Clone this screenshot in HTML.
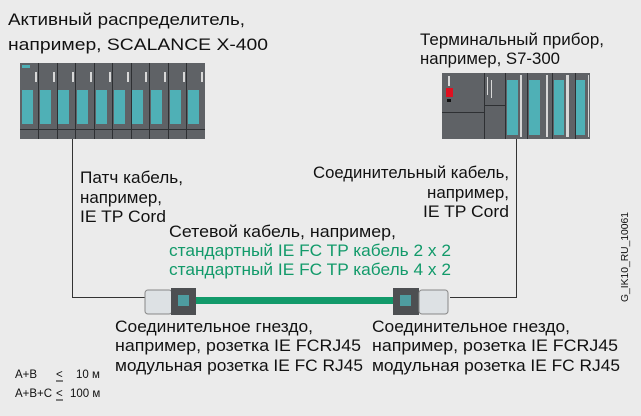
<!DOCTYPE html>
<html><head><meta charset="utf-8"><style>
html,body{margin:0;padding:0;background:#ebebeb;}
svg{display:block}
text{font-family:"Liberation Sans",Arial,sans-serif;fill:#111}
</style></head><body>
<svg width="641" height="416" viewBox="0 0 641 416" xmlns="http://www.w3.org/2000/svg">
<rect width="641" height="416" fill="#ebebeb"/>
<!-- left device -->
<rect x="20" y="63" width="185" height="76" fill="#5f6266"/>
<g fill="#4fb0b6">
<rect x="22" y="90" width="11" height="34"/><rect x="40" y="90" width="11" height="34"/>
<rect x="58" y="90" width="11" height="34"/><rect x="77" y="90" width="11" height="34"/>
<rect x="96" y="90" width="11" height="34"/><rect x="114" y="90" width="11" height="34"/>
<rect x="132" y="90" width="11" height="34"/><rect x="151" y="90" width="11" height="34"/>
<rect x="170" y="90" width="11" height="34"/><rect x="188" y="90" width="11" height="34"/>
</g>
<g stroke="#2e3033" stroke-width="1">
<line x1="38.5" y1="63" x2="38.5" y2="139"/><line x1="57.5" y1="63" x2="57.5" y2="139"/>
<line x1="75.5" y1="63" x2="75.5" y2="139"/><line x1="94.5" y1="63" x2="94.5" y2="139"/>
<line x1="112.5" y1="63" x2="112.5" y2="139"/><line x1="131.5" y1="63" x2="131.5" y2="139"/>
<line x1="149.5" y1="63" x2="149.5" y2="139"/><line x1="168.5" y1="63" x2="168.5" y2="139"/>
<line x1="186.5" y1="63" x2="186.5" y2="139"/>
<line x1="20" y1="129.5" x2="205" y2="129.5"/>
</g>
<g fill="#d8d8d8">
<rect x="35" y="72" width="2" height="10"/><rect x="53" y="72" width="2" height="10"/>
<rect x="72" y="72" width="2" height="10"/><rect x="90" y="72" width="2" height="10"/>
<rect x="109" y="72" width="2" height="10"/><rect x="127" y="72" width="2" height="10"/>
<rect x="145" y="72" width="2" height="10"/><rect x="164" y="72" width="2" height="10"/>
<rect x="183" y="72" width="2" height="10"/><rect x="201" y="72" width="2" height="10"/>
</g>
<rect x="22" y="65" width="8" height="3" fill="#4fb0b6"/>
<!-- right device -->
<rect x="442" y="73" width="148" height="66" fill="#5f6266"/>
<g stroke="#2e3033">
<line x1="484.5" y1="73" x2="484.5" y2="139"/><line x1="505.5" y1="73" x2="505.5" y2="139"/>
<line x1="527.5" y1="73" x2="527.5" y2="139"/><line x1="552.5" y1="73" x2="552.5" y2="139"/>
<line x1="575.5" y1="73" x2="575.5" y2="139"/>
<line x1="442" y1="112.5" x2="484" y2="112.5"/><line x1="484" y1="105.5" x2="505" y2="105.5"/>
</g>
<g fill="#4fb0b6">
<rect x="507" y="80" width="11" height="55"/><rect x="529" y="80" width="11" height="55"/>
<rect x="554" y="80" width="10" height="55"/><rect x="576" y="80" width="9" height="55"/>
</g>
<g fill="#d8d8d8">
<rect x="520" y="75" width="2" height="62"/><rect x="546" y="75" width="2" height="62"/>
<rect x="566" y="75" width="3" height="62"/><rect x="588" y="75" width="1" height="62"/>
<rect x="448" y="76" width="2" height="10"/><rect x="487" y="77" width="1" height="18"/><rect x="491" y="80" width="1" height="18"/>
</g>
<rect x="446" y="88" width="7" height="9" fill="#e01020"/>
<rect x="447" y="99" width="4" height="3" fill="#111"/>
<!-- lines -->
<g stroke="#333" stroke-width="1" fill="none">
<polyline points="72.5,139 72.5,297.5 145,297.5"/>
<polyline points="516.5,139 516.5,297.5 450,297.5"/>
</g>
<!-- connectors -->
<rect x="145" y="290" width="27" height="24" rx="3" fill="#dde1e4" stroke="#888"/>
<rect x="171" y="288" width="25" height="27" fill="#4d4f52"/>
<rect x="178" y="295" width="11" height="11" fill="#4e9ca0"/>
<rect x="196" y="297" width="197" height="7" fill="#129a6a"/>
<rect x="393" y="288" width="26" height="27" fill="#4d4f52"/>
<rect x="400" y="295" width="11" height="11" fill="#4e9ca0"/>
<rect x="419" y="290" width="29" height="24" rx="3" fill="#dde1e4" stroke="#888"/>
<!-- texts -->
<g font-size="16.5">
<text x="8" y="25" textLength="237" lengthAdjust="spacingAndGlyphs">Активный распределитель,</text>
<text x="8" y="50" textLength="260" lengthAdjust="spacingAndGlyphs">например, SCALANCE X-400</text>
<text x="420" y="45" textLength="184" lengthAdjust="spacingAndGlyphs">Терминальный прибор,</text>
<text x="420" y="64" textLength="140" lengthAdjust="spacingAndGlyphs">например, S7-300</text>
<text x="80" y="183" textLength="103" lengthAdjust="spacingAndGlyphs">Патч кабель,</text>
<text x="80" y="203" textLength="82" lengthAdjust="spacingAndGlyphs">например,</text>
<text x="80" y="222" textLength="86" lengthAdjust="spacingAndGlyphs">IE TP Cord</text>
<text x="313" y="178" textLength="196" lengthAdjust="spacingAndGlyphs">Соединительный кабель,</text>
<text x="427" y="198" textLength="82" lengthAdjust="spacingAndGlyphs">например,</text>
<text x="423" y="217" textLength="86" lengthAdjust="spacingAndGlyphs">IE TP Cord</text>
<text x="169" y="237" textLength="227" lengthAdjust="spacingAndGlyphs">Сетевой кабель, например,</text>
<text x="169" y="256" textLength="282" lengthAdjust="spacingAndGlyphs" style="fill:#129a6a">стандартный IE FC TP кабель 2 x 2</text>
<text x="169" y="275" textLength="282" lengthAdjust="spacingAndGlyphs" style="fill:#129a6a">стандартный IE FC TP кабель 4 x 2</text>
<text x="115" y="332" textLength="198" lengthAdjust="spacingAndGlyphs">Соединительное гнездо,</text>
<text x="115" y="351" textLength="246" lengthAdjust="spacingAndGlyphs">например, розетка IE FCRJ45</text>
<text x="115" y="371" textLength="248" lengthAdjust="spacingAndGlyphs">модульная розетка IE FC RJ45</text>
<text x="372" y="332" textLength="198" lengthAdjust="spacingAndGlyphs">Соединительное гнездо,</text>
<text x="372" y="351" textLength="246" lengthAdjust="spacingAndGlyphs">например, розетка IE FCRJ45</text>
<text x="372" y="371" textLength="248" lengthAdjust="spacingAndGlyphs">модульная розетка IE FC RJ45</text>
</g>
<g font-size="11.5">
<text x="15" y="378">A+B</text><text x="56" y="378">&lt;</text><text x="76" y="378">10 м</text>
<text x="15" y="397">A+B+C</text><text x="56" y="397">&lt;</text><text x="70" y="397">100 м</text>
</g>
<line x1="56" y1="381" x2="63" y2="381" stroke="#111"/>
<line x1="56" y1="400" x2="63" y2="400" stroke="#111"/>
<text transform="translate(628,302) rotate(-90)" font-size="10.5" textLength="90" lengthAdjust="spacingAndGlyphs">G_IK10_RU_10061</text>
</svg>
</body></html>
